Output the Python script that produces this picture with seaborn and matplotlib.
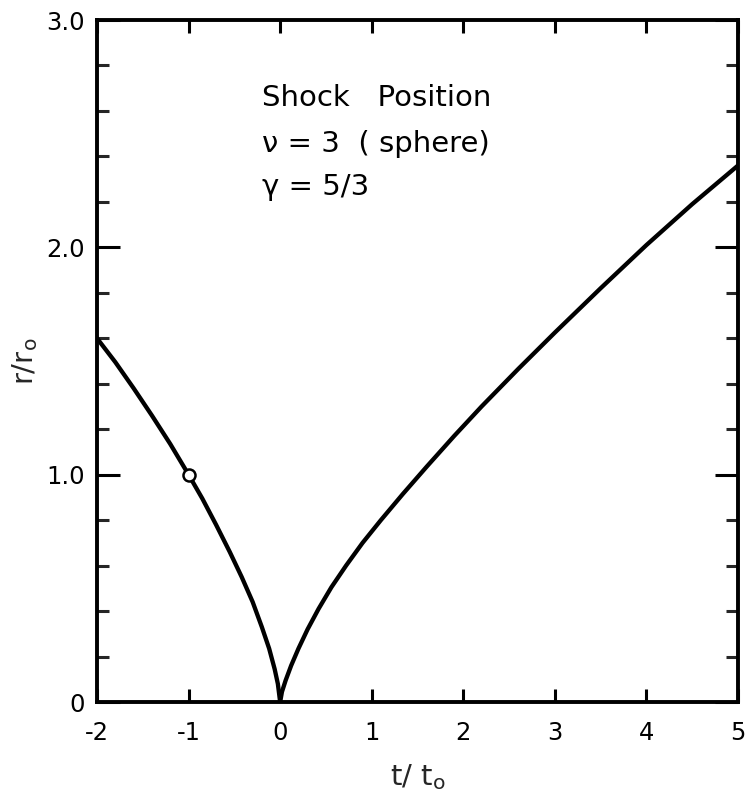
import matplotlib
matplotlib.use("Agg")
import matplotlib.pyplot as plt
import seaborn as sns
import pandas as pd
from matplotlib.ticker import MultipleLocator, FixedLocator, FixedFormatter

# Shock radius before (converging) and after (reflected) implosion
t_in = [-2.0, -1.8, -1.6, -1.4, -1.2, -1.0, -0.85, -0.7, -0.55, -0.42,
        -0.3, -0.2, -0.12, -0.06, -0.025, 0.0]
r_in = [1.60, 1.495, 1.38, 1.26, 1.135, 1.00, 0.895, 0.78, 0.66, 0.55,
        0.44, 0.33, 0.235, 0.145, 0.08, 0.0]

t_out = [0.0, 0.02, 0.06, 0.12, 0.2, 0.3, 0.42, 0.56, 0.72, 0.9, 1.1,
         1.34, 1.6, 1.9, 2.2, 2.6, 3.0, 3.5, 4.0, 4.5, 5.0]
r_out = [0.0, 0.045, 0.095, 0.16, 0.235, 0.32, 0.41, 0.505, 0.60, 0.70, 0.80,
         0.915, 1.035, 1.17, 1.30, 1.465, 1.625, 1.82, 2.01, 2.19, 2.36]

# marked point on the converging branch
t_mark = [-1.0]
r_mark = [1.0]

x_ticks = [-2, -1, 0, 1, 2, 3, 4, 5]
y_major = [0, 1, 2, 3]
y_major_labels = ["0", "1.0", "2.0", "3.0"]

sns.set_theme(style="ticks")
plt.rcParams["font.family"] = ["DejaVu Sans"]
plt.rcParams["mathtext.fontset"] = "dejavusans"

fig = plt.figure(figsize=(7.47, 7.94), dpi=100)
ax = fig.add_axes([97 / 747, 1 - 702 / 794, (738 - 97) / 747, (702 - 20) / 794])

lw = 3.1
df_in = pd.DataFrame({"t": t_in, "r": r_in})
df_out = pd.DataFrame({"t": t_out, "r": r_out})
sns.lineplot(data=df_in, x="t", y="r", sort=False, color="black", lw=lw, ax=ax)
sns.lineplot(data=df_out, x="t", y="r", sort=False, color="black", lw=lw, ax=ax)
sns.scatterplot(x=t_mark, y=r_mark, s=75, facecolor="white", edgecolor="black",
                linewidth=1.8, zorder=5, ax=ax)

ax.set_xlim(-2, 5)
ax.set_ylim(0, 3)

ax.xaxis.set_major_locator(FixedLocator(x_ticks))
ax.set_xticklabels([str(v) for v in x_ticks])
ax.yaxis.set_major_locator(FixedLocator(y_major))
ax.yaxis.set_major_formatter(FixedFormatter(y_major_labels))
ax.yaxis.set_minor_locator(MultipleLocator(0.2))

for sp in ax.spines.values():
    sp.set_visible(True)
    sp.set_linewidth(2.8)
    sp.set_color("black")

ax.tick_params(axis="x", which="major", direction="in", length=9.5, width=2.2,
               top=True, bottom=True, labelsize=17.5, pad=14, colors="black")
ax.tick_params(axis="y", which="major", direction="in", length=16.5, width=2.2,
               left=True, right=True, labelsize=17.5, pad=9, colors="black")
ax.tick_params(axis="y", which="minor", direction="in", length=8.8, width=2.2,
               left=True, right=True)

ax.set_xlabel(r"t/ t$_\mathregular{o}$", fontsize=21, labelpad=12)
ax.set_ylabel(r"r/r$_\mathregular{o}$", fontsize=21, labelpad=4)

txt_kw = dict(fontsize=21, color="black", transform=ax.transData)
ax.text(-0.2, 2.62, "Shock   Position", **txt_kw)
ax.text(-0.2, 2.42, "\u03bd = 3  ( sphere)", **txt_kw)
ax.text(-0.2, 2.23, "\u03b3 = 5/3", **txt_kw)

ax.grid(False)
fig.savefig("out.png", dpi=100, facecolor="white")
